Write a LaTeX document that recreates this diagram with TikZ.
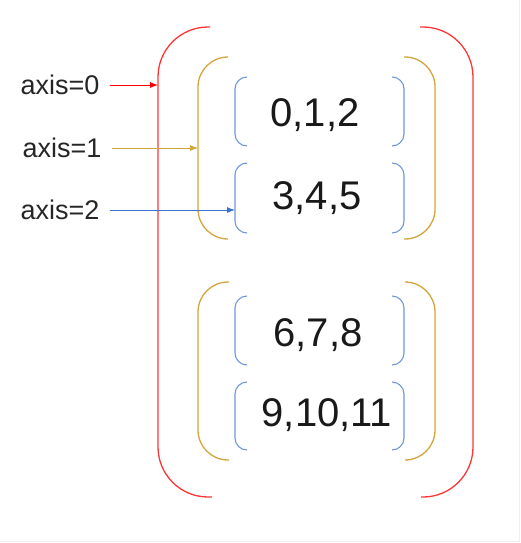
\documentclass[tikz,border=0pt]{standalone}
\usepackage{fontspec}
\setmainfont{Liberation Sans}
\usetikzlibrary{arrows.meta}

\definecolor{brred}{HTML}{FF3535}
\definecolor{brgold}{HTML}{D4A53A}
\definecolor{brblue}{HTML}{6F97DC}
\definecolor{arblue}{HTML}{3B6FD0}
\definecolor{edge}{HTML}{EDF1F7}

\tikzset{
  lbl/.style={inner sep=0pt,text height=19.5pt,text depth=0pt,text=black!85,font=\fontsize{27}{29}\selectfont},
  num/.style={inner sep=0pt,text height=28.7pt,text depth=0pt,text=black!90,font=\fontsize{40}{42}\selectfont},
  redbr/.style={brred,line width=1.3pt,rounded corners=50pt},
  goldbr/.style={brgold,line width=1.3pt,rounded corners=30pt},
  bluebr/.style={brblue,line width=1.1pt,rounded corners=12pt},
  ptr/.style={line width=0.9pt,shorten <=10pt,-{Latex[length=8pt,width=6pt]}}
}

\begin{document}
\begin{tikzpicture}[x=1pt,y=-1pt]
\useasboundingbox (0,0) rectangle (521,543);
\draw[edge,line width=1.5pt] (519.5,0)--(519.5,541.5)--(0,541.5);

% outer brackets, axis 0
\draw[redbr] (210,27)--(158,27)--(158,497)--(212,497);
\draw[redbr] (420,27)--(473,27)--(473,497)--(421,497);

% middle brackets, axis 1
\draw[goldbr] (228,57)--(198,57)--(198,239)--(228,239);
\draw[goldbr] (404,57)--(435,57)--(435,239)--(404,239);
\draw[goldbr] (229,282)--(198,282)--(198,460)--(229,460);
\draw[goldbr] (405,282)--(435,282)--(435,460)--(405,460);

% inner brackets, axis 2
\foreach \t/\b in {77/146,163/233,296/365,382/450}{
  \draw[bluebr] (247,\t)--(235,\t)--(235,\b)--(247,\b);
  \draw[bluebr] (392,\t)--(404,\t)--(404,\b)--(392,\b);
}

\node[num] (n012) at (315,112) {0,1,2};
\node[num] (n345) at (317,195) {3,4,5};
\node[num] (n678) at (318,332) {6,7,8};
\node[num] (n91011) at (327,412) {9,10,11};

\node[lbl] (ax0) at (60,85) {axis=0};
\node[lbl] (ax1) at (62,148) {axis=1};
\node[lbl] (ax2) at (60,210) {axis=2};

\coordinate (a0) at (158,85);
\coordinate (a1) at (198,148);
\coordinate (a2) at (235,210);

\draw[ptr,red] (ax0)--(a0);
\draw[ptr,brgold] (ax1)--(a1);
\draw[ptr,arblue] (ax2)--(a2);
\end{tikzpicture}
\end{document}
